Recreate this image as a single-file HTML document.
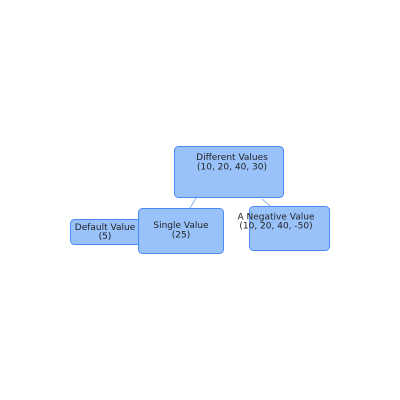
<!DOCTYPE html>
<html><head><style>
html,body{margin:0;padding:0;background:#fff;width:400px;height:400px;overflow:hidden}
text{font-family:"DejaVu Sans","Liberation Sans",sans-serif;font-size:9px;fill:#222}
</style></head><body>
<svg width="400" height="400" xmlns="http://www.w3.org/2000/svg">
<line x1="196" y1="198" x2="190" y2="208" stroke="#8ab4f0" stroke-width="1"/>
<line x1="262" y1="199" x2="270" y2="206" stroke="#8ab4f0" stroke-width="1"/>
<rect x="174.5" y="146.5" width="109" height="51" rx="4" fill="#99c2fb" stroke="#4a8af4"/>
<text x="232" y="160" text-anchor="middle">Different Values</text>
<text x="232" y="169.5" text-anchor="middle">(10, 20, 40, 30)</text>
<rect x="70.5" y="219.5" width="70" height="25" rx="4" fill="#99c2fb" stroke="#4a8af4"/>
<text x="105" y="230" text-anchor="middle">Default Value</text>
<text x="105" y="239" text-anchor="middle">(5)</text>
<rect x="138.5" y="208.5" width="85" height="45" rx="4" fill="#99c2fb" stroke="#4a8af4"/>
<text x="181" y="228" text-anchor="middle">Single Value</text>
<text x="181" y="237.5" text-anchor="middle">(25)</text>
<rect x="249.5" y="206.5" width="80" height="44" rx="4" fill="#99c2fb" stroke="#4a8af4"/>
<text x="276" y="219.5" text-anchor="middle">A Negative Value</text>
<text x="276" y="228.5" text-anchor="middle">(10, 20, 40, -50)</text>
</svg>
</body></html>
